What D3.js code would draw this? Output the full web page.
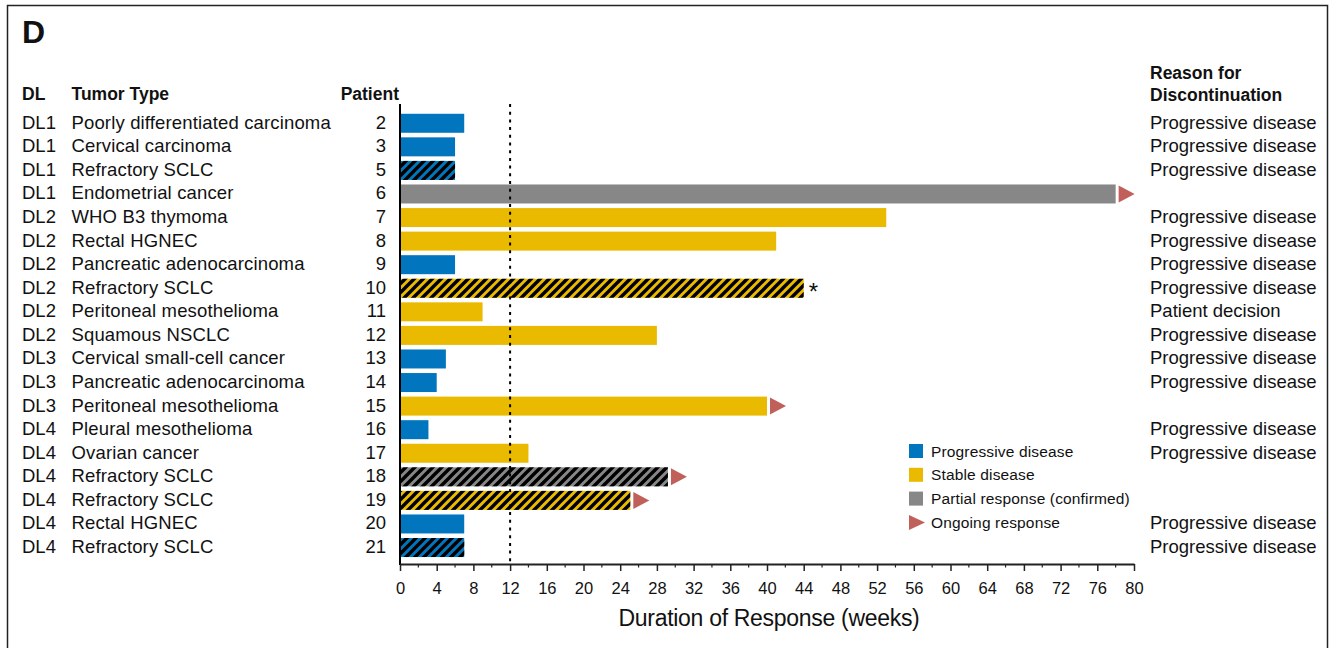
<!DOCTYPE html>
<html>
<head>
<meta charset="utf-8">
<script src="https://cdn.jsdelivr.net/npm/d3@7"></script>
<style>
  body { margin: 0; background: #fff; }
  text { font-family: "Liberation Sans", Arial, sans-serif; fill: #111; }
</style>
</head>
<body>
<script>
// ---- data ----
var doseLevels = ["DL1","DL1","DL1","DL1","DL2","DL2","DL2","DL2","DL2","DL2",
    "DL3","DL3","DL3","DL4","DL4","DL4","DL4","DL4","DL4"];
var tumorTypes = ["Poorly differentiated carcinoma","Cervical carcinoma","Refractory SCLC",
    "Endometrial cancer","WHO B3 thymoma","Rectal HGNEC","Pancreatic adenocarcinoma",
    "Refractory SCLC","Peritoneal mesothelioma","Squamous NSCLC","Cervical small-cell cancer",
    "Pancreatic adenocarcinoma","Peritoneal mesothelioma","Pleural mesothelioma",
    "Ovarian cancer","Refractory SCLC","Refractory SCLC","Rectal HGNEC","Refractory SCLC"];
var patients = ["2","3","5","6","7","8","9","10","11","12","13","14","15","16","17","18","19","20","21"];
var weeks = [7, 6, 6, 78, 53, 41, 6, 44, 9, 28, 5, 4, 40, 3.1, 14, 29.2, 25.1, 7, 7];
var responses = ["PD","PD","PD","PR","SD","SD","PD","SD","SD","SD",
    "PD","PD","SD","PD","SD","PR","SD","PD","PD"];
var sclc = [false,false,true,false,false,false,false,true,false,false,
    false,false,false,false,false,true,true,false,true];
var ongoing = [false,false,false,true,false,false,false,false,false,false,
    false,false,true,false,false,true,true,false,false];
var starred = ["10"];
var reasons = ["Progressive disease","Progressive disease","Progressive disease","",
    "Progressive disease","Progressive disease","Progressive disease","Progressive disease",
    "Patient decision","Progressive disease","Progressive disease","Progressive disease","",
    "Progressive disease","Progressive disease","","","Progressive disease","Progressive disease"];
var xTickValues = [0,4,8,12,16,20,24,28,32,36,40,44,48,52,56,60,64,68,72,76,80];
var minorTickValues = [2,6,10,14,18,22,26,30,34,38,42,46,50,54,58,62,66,70,74,78];
var cutoffWeek = 12;

var legendKeys = ["PD","SD","PR"];
var legendLabels = ["Progressive disease","Stable disease","Partial response (confirmed)","Ongoing response"];

var colors = {PD: "#0176be", SD: "#eaba00", PR: "#878787"};
var arrowColor = "#c1605a";

var rows = patients.map(function(p, i) {
    return {patient: p, dl: doseLevels[i], tumor: tumorTypes[i], weeks: weeks[i],
        resp: responses[i], hatch: sclc[i], ongoing: ongoing[i], reason: reasons[i]};
});

var W = 1337, H = 648;
var x0 = 400, x1 = 1134;
var axisY = 564;

var svg = d3.select("body").append("svg")
    .attr("width", W)
    .attr("height", H);

// stripes pattern for the SCLC bars
var defs = svg.append("defs");
defs.append("pattern")
    .attr("id", "hatch")
    .attr("patternUnits", "userSpaceOnUse")
    .attr("width", 9)
    .attr("height", 9)
  .append("path")
    .attr("d", "M-2.25,2.25 l4.5,-4.5 M0,9 l9,-9 M6.75,11.25 l4.5,-4.5")
    .attr("stroke", "#000")
    .attr("stroke-width", 3.4);

// frame
svg.append("rect")
    .attr("x", 7.5).attr("y", 5.5)
    .attr("width", 1320).attr("height", 660)
    .attr("fill", "none")
    .attr("stroke", "#222")
    .attr("stroke-width", 1.5);

svg.append("text")
    .attr("x", 22).attr("y", 43)
    .attr("font-size", 32).attr("font-weight", "bold")
    .text("D");

var xScale = d3.scaleLinear().domain([0, 80]).range([x0, x1]);
var yScale = d3.scaleBand()
    .domain(patients)
    .range([109.2, 561.6])
    .padding(0.194);

// headers
var hdr = svg.append("g").attr("font-size", 17.5).attr("font-weight", "bold");
hdr.append("text").attr("x", 22).attr("y", 100).text("DL");
hdr.append("text").attr("x", 71.5).attr("y", 100).text("Tumor Type");
hdr.append("text").attr("x", 399).attr("y", 100).attr("text-anchor", "end").text("Patient");
hdr.append("text").attr("x", 1150).attr("y", 79).text("Reason for");
hdr.append("text").attr("x", 1150).attr("y", 101).text("Discontinuation");

// row labels
var labels = svg.append("g").attr("font-size", 18.5);
var rowY = function(d) { return yScale(d.patient) + yScale.bandwidth() / 2 + 5.5; };
labels.selectAll("text.dl").data(rows).enter().append("text")
    .attr("class", "dl").attr("x", 22).attr("y", rowY)
    .text(function(d) { return d.dl; });
labels.selectAll("text.tumor").data(rows).enter().append("text")
    .attr("class", "tumor").attr("x", 71.5).attr("y", rowY)
    .attr("letter-spacing", 0.15)
    .text(function(d) { return d.tumor; });
labels.selectAll("text.pt").data(rows).enter().append("text")
    .attr("class", "pt").attr("x", 386).attr("y", rowY)
    .attr("text-anchor", "end")
    .text(function(d) { return d.patient; });
labels.selectAll("text.reason").data(rows).enter().append("text")
    .attr("class", "reason").attr("x", 1150).attr("y", rowY)
    .text(function(d) { return d.reason; });

// bars
svg.selectAll("rect.bar").data(rows).enter().append("rect")
    .attr("class", "bar")
    .attr("x", xScale(0))
    .attr("y", function(d) { return yScale(d.patient); })
    .attr("width", function(d) { return xScale(d.weeks) - xScale(0); })
    .attr("height", yScale.bandwidth())
    .attr("fill", function(d) { return colors[d.resp]; });

svg.selectAll("rect.hatch").data(rows.filter(function(d) { return d.hatch; })).enter().append("rect")
    .attr("class", "hatch")
    .attr("x", xScale(0))
    .attr("y", function(d) { return yScale(d.patient); })
    .attr("width", function(d) { return xScale(d.weeks) - xScale(0); })
    .attr("height", yScale.bandwidth())
    .attr("fill", "url(#hatch)");

// ongoing arrows
svg.selectAll("path.arrow").data(rows.filter(function(d) { return d.ongoing; })).enter().append("path")
    .attr("class", "arrow")
    .attr("d", function(d) {
        var ax = xScale(d.weeks) + 3, cy = yScale(d.patient) + yScale.bandwidth() / 2;
        return "M" + ax + "," + (cy - 8.5) + "L" + (ax + 16) + "," + cy + "L" + ax + "," + (cy + 8.5) + "Z";
    })
    .attr("fill", arrowColor);

// asterisk
svg.selectAll("text.star").data(rows.filter(function(d) { return starred.indexOf(d.patient) >= 0; }))
    .enter().append("text")
    .attr("class", "star")
    .attr("x", function(d) { return xScale(d.weeks) + 5; })
    .attr("y", function(d) { return yScale(d.patient) + yScale.bandwidth() / 2 + 12; })
    .attr("font-size", 24)
    .text("*");

// 12-week cutoff
svg.append("line")
    .attr("x1", xScale(cutoffWeek)).attr("x2", xScale(cutoffWeek))
    .attr("y1", 104).attr("y2", axisY)
    .attr("stroke", "#000")
    .attr("stroke-width", 2)
    .attr("stroke-dasharray", "3,4.7");

// y axis line
svg.append("line")
    .attr("x1", x0).attr("x2", x0)
    .attr("y1", 104).attr("y2", axisY + 1)
    .attr("stroke", "#000")
    .attr("stroke-width", 2);

// x axis
var xAxis = svg.append("g")
    .attr("transform", "translate(0," + axisY + ")")
    .call(d3.axisBottom(xScale).tickValues(xTickValues).tickSize(7).tickSizeOuter(0).tickPadding(11));
xAxis.select(".domain").attr("stroke", "#222").attr("stroke-width", 2);
xAxis.selectAll(".tick line").attr("stroke", "#222").attr("stroke-width", 1.5);
xAxis.selectAll(".tick text")
    .attr("font-size", 16.5)
    .attr("font-family", "Liberation Sans, Arial, sans-serif")
    .attr("fill", "#111");

svg.append("g")
    .attr("transform", "translate(0," + axisY + ")")
    .selectAll("line").data(minorTickValues).enter().append("line")
    .attr("x1", function(d) { return xScale(d); })
    .attr("x2", function(d) { return xScale(d); })
    .attr("y1", 0).attr("y2", 3.5)
    .attr("stroke", "#222").attr("stroke-width", 1.2);

svg.append("text")
    .attr("x", (x0 + x1) / 2 + 2).attr("y", 626)
    .attr("text-anchor", "middle")
    .attr("font-size", 23)
    .attr("letter-spacing", -0.3)
    .text("Duration of Response (weeks)");

// legend
var legend = svg.append("g").attr("font-size", 15.5);
var legY = function(i) { return 451 + i * 23.8; };
legend.selectAll("rect").data(legendKeys).enter().append("rect")
    .attr("x", 909)
    .attr("y", function(d, i) { return legY(i) - 7; })
    .attr("width", 14).attr("height", 14)
    .attr("fill", function(d) { return colors[d]; });
legend.append("path")
    .attr("d", "M909," + (legY(3) - 7.5) + "L925," + legY(3) + "L909," + (legY(3) + 7.5) + "Z")
    .attr("fill", arrowColor);
legend.selectAll("text").data(legendLabels).enter().append("text")
    .attr("x", 931)
    .attr("y", function(d, i) { return legY(i) + 5.5; })
    .attr("letter-spacing", 0.15)
    .text(function(d) { return d; });
</script>
</body>
</html>
